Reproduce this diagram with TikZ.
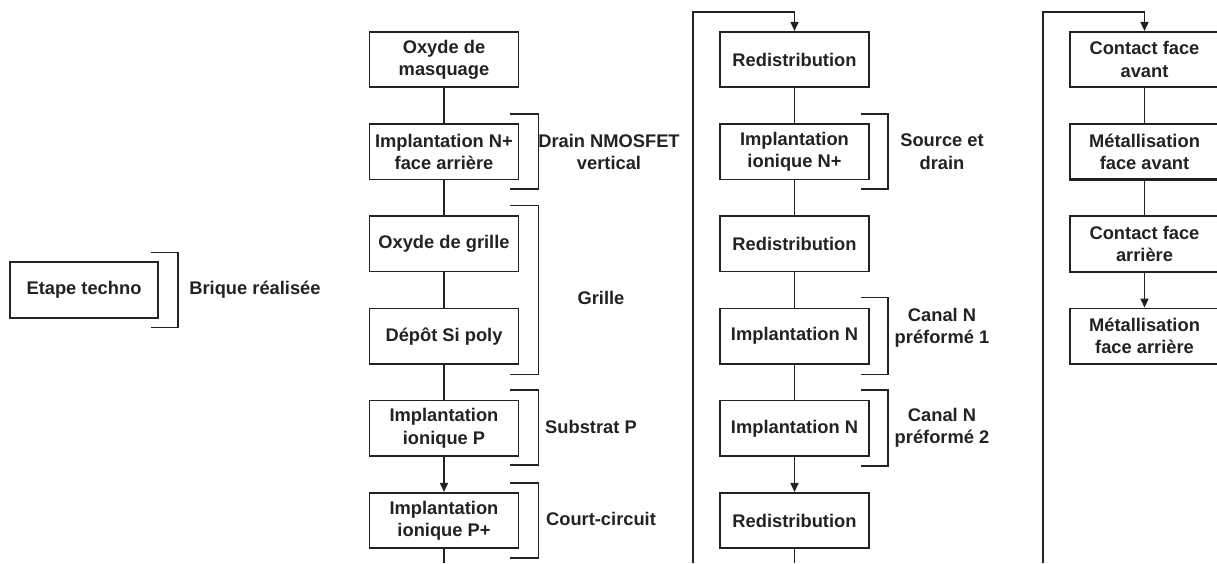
\documentclass[tikz,border=0pt]{standalone}
\usepackage{fontspec}
\setmainfont{Liberation Sans}
\usetikzlibrary{arrows.meta,calc}
\definecolor{ink}{HTML}{222222}
\begin{document}
\begin{tikzpicture}[x=1pt,y=-1pt,
  font=\fontsize{18.3}{22.3}\selectfont\bfseries,
  color=ink, line width=1.6pt,
  stepbox/.style={draw=ink,line width=1.6pt,minimum width=149pt,minimum height=55.5pt,inner sep=0pt,align=center,text=ink},
  thickbox/.style={stepbox,line width=2.3pt},
  lbl/.style={align=center,text=ink,inner sep=0pt},
  arr/.style={-{Triangle[width=8pt,length=9pt]}},
]
\useasboundingbox (0,0) rectangle (1217,563);
% legend
\node[stepbox,minimum width=148pt] (leg) at (84,290) {Etape techno};
\draw ([xshift=-8pt,yshift=9pt]leg.north east) -- ++(27,0) |- ([xshift=-8pt,yshift=-9pt]leg.south east);
\node[lbl] (legl) at (255,290) {Brique réalisée};
% column 1
\node[stepbox] (a1) at (444,59.5) {Oxyde de\\masquage};
\node[stepbox] (a2) at (444,151.7) {Implantation N+\\face arrière};
\node[stepbox] (a3) at (444,243.9) {Oxyde de grille};
\node[stepbox] (a4) at (444,336.1) {Dépôt Si poly};
\node[stepbox] (a5) at (444,428.3) {Implantation\\ionique P};
\node[stepbox] (a6) at (444,520.5) {Implantation\\ionique P+};
\coordinate (aend) at (444,563);
\draw (a1) -- (a2);
\draw (a2) -- (a3);
\draw (a3) -- (a4);
\draw (a4) -- (a5);
\draw[arr] (a5) -- (a6);
\draw (a6) -- (aend);
% column 1 brackets
\draw ([xshift=-9pt,yshift=9pt]a2.north east) -- ++(28,0) |- ([xshift=-9pt,yshift=-9pt]a2.south east);
\draw ([xshift=-9pt,yshift=10pt]a3.north east) -- ++(28,0) |- ([xshift=-9pt,yshift=-10pt]a4.south east);
\draw ([xshift=-9pt,yshift=10pt]a5.north east) -- ++(28,0) |- ([xshift=-9pt,yshift=-8pt]a5.south east);
\draw ([xshift=-9pt,yshift=9pt]a6.north east) -- ++(28,0) |- ([xshift=-9pt,yshift=-9pt]a6.south east);
\node[lbl] (la2) at (609,151.7) {Drain NMOSFET\\vertical};
\node[lbl] (la3) at (601,298) {Grille};
\node[lbl] (la5) at (591,427) {Substrat P};
\node[lbl] (la6) at (601,518.5) {Court-circuit};
% loop 1
\coordinate (l1) at (693,563);
% column 2
\node[stepbox] (b1) at (794.5,59.5) {Redistribution};
\node[stepbox] (b2) at (794.5,151.7) {Implantation\\ionique N+};
\node[stepbox] (b3) at (794.5,243.9) {Redistribution};
\node[stepbox] (b4) at (794.5,336.1) {Implantation N};
\node[stepbox] (b5) at (794.5,428.3) {Implantation N};
\node[stepbox] (b6) at (794.5,520.5) {Redistribution};
\coordinate (bend) at (794.5,563);
\draw[arr] (l1) |- ($(b1.north)+(0,-19)$) -- (b1.north);
\draw (b1) -- (b2);
\draw (b2) -- (b3);
\draw (b3) -- (b4);
\draw (b4) -- (b5);
\draw[arr] (b5) -- (b6);
\draw (b6) -- (bend);
\draw ([xshift=-9pt,yshift=9pt]b2.north east) -- ++(27,0) |- ([xshift=-9pt,yshift=-9pt]b2.south east);
\draw ([xshift=-9pt,yshift=10pt]b4.north east) -- ++(27,0) |- ([xshift=-9pt,yshift=-10pt]b4.south east);
\draw ([xshift=-9pt,yshift=10pt]b5.north east) -- ++(27,0) |- ([xshift=-9pt,yshift=-9pt]b5.south east);
\node[lbl] (lb2) at (942,151.7) {Source et\\drain};
\node[lbl] (lb4) at (942,327.5) {Canal N\\préformé 1};
\node[lbl] (lb5) at (942,428) {Canal N\\préformé 2};
% loop 2
\coordinate (l2) at (1043,563);
% column 3
\node[stepbox] (c1) at (1144.5,59.5) {Contact face\\avant};
\node[thickbox] (c2) at (1144.5,151.7) {Métallisation\\face avant};
\node[thickbox] (c3) at (1144.5,243.9) {Contact face\\arrière};
\node[stepbox] (c4) at (1144.5,336.1) {Métallisation\\face arrière};
\draw[arr] (l2) |- ($(c1.north)+(0,-19)$) -- (c1.north);
\draw (c1) -- (c2);
\draw (c2) -- (c3);
\draw[arr] (c3) -- (c4);
\end{tikzpicture}
\end{document}
